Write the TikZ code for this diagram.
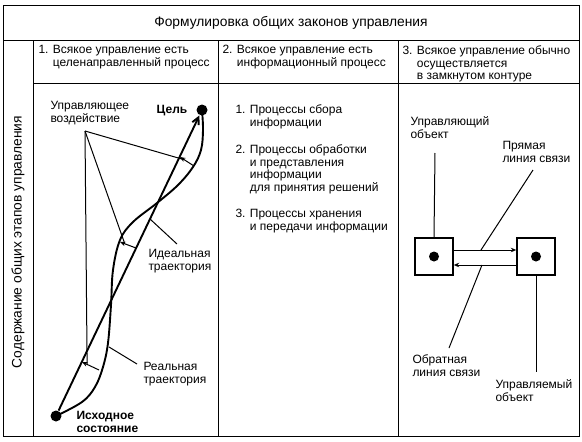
\documentclass[tikz,border=0pt]{standalone}
\usepackage{fontspec}
\setmainfont{Liberation Sans}
\usetikzlibrary{arrows.meta,calc}

\begin{document}
\begin{tikzpicture}[x=1pt,y=-1pt,line width=1pt,
    font=\fontsize{12}{12.7}\selectfont,
    lbl/.style={anchor=north west,align=left,inner sep=0pt},
    bold/.style={font=\fontsize{12}{12.7}\selectfont\bfseries},
    big/.style={font=\fontsize{13.8}{16}\selectfont},
    dot/.style={circle,fill,inner sep=0pt,minimum size=#1},
    dot/.default=11pt,
    objbox/.style={draw,line width=1.4pt,minimum width=38pt,minimum height=37pt,inner sep=0pt},
    traj/.style={line width=1.9pt},
    tip/.style={-{Stealth[length=5.5pt,width=4.5pt]}}]
  \useasboundingbox (0,0) rectangle (582,442);

  % Table: frame, rows, columns
  \draw (3,5) rectangle (579,436);
  \draw (3,40) -- (579,40);
  \draw (33,83) -- (579,83);
  \foreach \x in {33,218,398}
    \draw (\x,40) -- (\x,436);

  \node[big] (title) at (291,23) {Формулировка общих законов управления};
  \node[big,rotate=90] (side) at (18,242) {Содержание общих этапов управления};

  \node[lbl] (head1) at (38,45) {1. Всякое управление есть\\\phantom{1. }целенаправленный процесс};
  \node[lbl] (head2) at (222,45) {2. Всякое управление есть\\\phantom{2. }информационный процесс};
  \node[lbl] (head3) at (402,45) {3. Всякое управление обычно\\\phantom{3. }осуществляется\\\phantom{3. }в замкнутом контуре};

  % Left: ideal and real trajectory
  \node[dot] (goal) at (202,110) {};
  \node[dot] (start) at (56,416) {};
  \node[bold] (goaltxt) at (172,111) {Цель};
  \node[lbl,bold] (starttxt) at (76,411) {Исходное\\состояние};

  \draw[traj,-{Straight Barb[length=7pt,width=7pt]}] (start) -- (goal);
  \draw[traj] plot[smooth,tension=0.6] coordinates {(start) (82,402) (95,387) (103,367)
    (108,343) (111,305) (113,270) (120,240) (133,222) (157,203) (178,185) (193,167)
    (201,150) (203,130) (goal)};

  % control actions
  \node[lbl] (ctltxt) at (50,101) {Управляющее\\воздействие};
  \coordinate (ctl) at (85,131);
  \coordinate (d1) at (180,157); \coordinate (c1) at (194,166);
  \coordinate (d2) at (120,242); \coordinate (c2) at (136,248);
  \coordinate (d3) at (82,362);  \coordinate (c3) at (99,370);
  \foreach \i in {1,2,3} {
    \draw[tip] (c\i) -- (d\i);
    \draw (ctl) -- ($(d\i)!0.3!(c\i)$);
  }

  \coordinate (idealpt) at (150,219);
  \coordinate (idealend) at (177,244);
  \draw (idealpt) -- (idealend);
  \node[lbl] (idealtxt) at (148,249) {Идеальная\\траектория};
  \coordinate (realpt) at (109,347);
  \coordinate (realend) at (137,364);
  \draw (realpt) -- (realend);
  \node[lbl] (realtxt) at (143,362) {Реальная\\траектория};

  % Middle: steps
  \node[lbl] (step1) at (235,104) {1. Процессы сбора\\\phantom{1. }информации};
  \node[lbl] (step2) at (235,144) {2. Процессы обработки\\\phantom{2. }и представления\\\phantom{2. }информации\\\phantom{2. }для принятия решений};
  \node[lbl] (step3) at (235,209) {3. Процессы хранения\\\phantom{3. }и передачи информации};

  % Right: closed loop
  \node[objbox] (src) at (434,256.5) {};
  \node[objbox] (dst) at (536,256.5) {};
  \node[dot=10pt] (srcdot) at (src) {};
  \node[dot=10pt] (dstdot) at (dst) {};
  \draw[tip] ([yshift=6.5pt]src.east) -- ([yshift=6.5pt]dst.west);
  \draw[tip] ([yshift=-8.5pt]dst.west) -- ([yshift=-8.5pt]src.east);

  \node[lbl] (srctxt) at (410,116) {Управляющий\\объект};
  \coordinate (srcend) at (435,153);
  \draw (srcend) -- (src.north);
  \node[lbl] (fwdtxt) at (502,141) {Прямая\\линия связи};
  \coordinate (fwdend) at (533,170);
  \coordinate (fwdpt) at (481,250);
  \draw (fwdend) -- (fwdpt);
  \node[lbl] (backtxt) at (412,354) {Обратная\\линия связи};
  \coordinate (backpt) at (482,265);
  \coordinate (backend) at (449,348);
  \draw (backpt) -- (backend);
  \node[lbl] (dsttxt) at (495,379) {Управляемый\\объект};
  \coordinate (dstend) at (536,372);
  \draw (dst.south) -- (dstend);
\end{tikzpicture}
\end{document}
